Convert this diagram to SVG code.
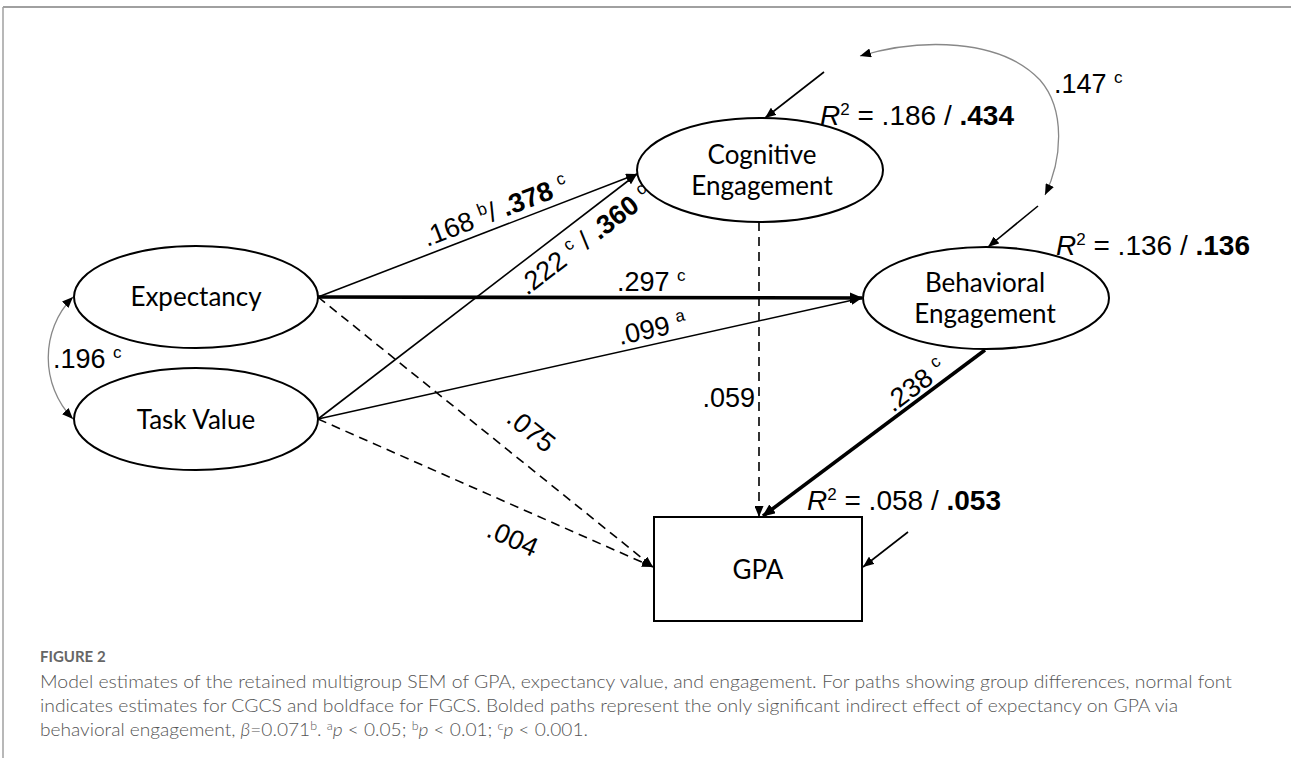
<svg xmlns="http://www.w3.org/2000/svg" width="1291" height="758" viewBox="0 0 1291 758">
<defs>
<style>
.node ellipse, .node rect { fill: #fff; stroke: #000; stroke-width: 2; }
.nt { font-family: Lato, "Open Sans", "Liberation Sans", sans-serif; font-size: 26px; fill: #000; text-anchor: middle; }
.lab { font-family: "Liberation Sans", Arial, sans-serif; font-size: 27px; fill: #000; }
.r2 { font-size: 28px; }
.sup { font-size: 17px; }
.b { font-weight: bold; }
.thin { stroke: #000; stroke-width: 1.6; fill: none; marker-end: url(#ah); }
.thick { stroke: #000; stroke-width: 3.6; fill: none; marker-end: url(#ahk); }
.dash { stroke: #000; stroke-width: 1.6; fill: none; stroke-dasharray: 9 6; marker-end: url(#ah); }
.cov { stroke: #888; stroke-width: 1.3; fill: none; marker-start: url(#ahs); marker-end: url(#ah); }
.cap { font-family: Lato, "Open Sans", "Liberation Sans", sans-serif; font-size: 18.5px; fill: #555; font-weight: 300; }
</style>
<marker id="ah" markerUnits="userSpaceOnUse" markerWidth="11" markerHeight="9" refX="11" refY="4.5" orient="auto"><path d="M0,0 L11,4.5 L0,9 z" fill="#000"/></marker>
<marker id="ahs" markerUnits="userSpaceOnUse" markerWidth="11" markerHeight="9" refX="11" refY="4.5" orient="auto-start-reverse"><path d="M0,0 L11,4.5 L0,9 z" fill="#000"/></marker>
<marker id="ahk" markerUnits="userSpaceOnUse" markerWidth="13" markerHeight="11" refX="12" refY="5.5" orient="auto"><path d="M0,0 L13,5.5 L0,11 z" fill="#000"/></marker>
</defs>
<rect x="0" y="0" width="1291" height="758" fill="#fff"/>
<g id="frame" stroke="#a0a0a0" fill="none">
<line x1="3" y1="7" x2="1291" y2="7" stroke-width="2"/>
<line x1="3" y1="7" x2="3" y2="758" stroke-width="1.5"/>
</g>

<g id="connectors">
<line class="thin" x1="318" y1="297" x2="637" y2="174"/>
<line class="thin" x1="318" y1="419" x2="637" y2="174"/>
<line class="thick" x1="318" y1="297" x2="862" y2="298"/>
<line class="thin" x1="318" y1="419" x2="862" y2="298"/>
<line class="dash" x1="318" y1="297" x2="653" y2="567"/>
<line class="dash" x1="318" y1="419" x2="653" y2="567"/>
<line class="dash" x1="759" y1="222" x2="759" y2="517"/>
<line class="thick" x1="985" y1="350" x2="763" y2="516"/>
<line class="thin" x1="824" y1="72" x2="765" y2="118"/>
<line class="thin" x1="1038" y1="206" x2="988" y2="247"/>
<line class="thin" x1="908" y1="532" x2="863" y2="567"/>
<path class="cov" d="M73,297 C40,330 40,385 73,419"/>
<path class="cov" d="M860,56 C920,38 1000,38 1040,80 C1066,110 1062,160 1045,195"/>
</g>

<g id="labels">
<text class="lab" transform="translate(427,247) rotate(-21)">.168 <tspan class="sup" dy="-10">b</tspan><tspan dy="10">/ </tspan><tspan class="b">.378</tspan> <tspan class="sup" dy="-10">c</tspan></text>
<text class="lab" transform="translate(527,296) rotate(-37.5)">.222 <tspan class="sup" dy="-10">c</tspan><tspan dy="10"> / </tspan><tspan class="b">.360</tspan> <tspan class="sup" dy="-10">c</tspan></text>
<text class="lab" x="617" y="291">.297 <tspan class="sup" dy="-10">c</tspan></text>
<text class="lab" transform="translate(620,345) rotate(-12.5)">.099 <tspan class="sup" dy="-10">a</tspan></text>
<text class="lab" transform="translate(505,421) rotate(39)">.075</text>
<text class="lab" transform="translate(485,536) rotate(24)">.004</text>
<text class="lab" x="755" y="407" text-anchor="end">.059</text>
<text class="lab" transform="translate(893,413) rotate(-37)">.238 <tspan class="sup" dy="-10">c</tspan></text>
<text class="lab" x="1054" y="93">.147 <tspan class="sup" dy="-10">c</tspan></text>
<text class="lab" x="53" y="368">.196 <tspan class="sup" dy="-10">c</tspan></text>
<text class="lab r2" x="820" y="125"><tspan font-style="italic">R</tspan><tspan class="sup" dy="-10">2</tspan><tspan dy="10"> = .186 / </tspan><tspan class="b">.434</tspan></text>
<text class="lab r2" x="1056" y="255"><tspan font-style="italic">R</tspan><tspan class="sup" dy="-10">2</tspan><tspan dy="10"> = .136 / </tspan><tspan class="b">.136</tspan></text>
<text class="lab r2" x="807" y="510"><tspan font-style="italic">R</tspan><tspan class="sup" dy="-10">2</tspan><tspan dy="10"> = .058 / </tspan><tspan class="b">.053</tspan></text>
</g>

<g id="node-expectancy" class="node">
<ellipse cx="196" cy="297" rx="122" ry="51"/>
<text class="nt" x="196" y="306">Expectancy</text>
</g>
<g id="node-taskvalue" class="node">
<ellipse cx="196" cy="419" rx="122" ry="51"/>
<text class="nt" x="196" y="429">Task Value</text>
</g>
<g id="node-cognitive" class="node">
<ellipse cx="760" cy="170" rx="123" ry="52"/>
<text class="nt" x="762" y="164">Cognitive</text>
<text class="nt" x="762" y="195">Engagement</text>
</g>
<g id="node-behavioral" class="node">
<ellipse cx="986" cy="298" rx="123" ry="51"/>
<text class="nt" x="985" y="292">Behavioral</text>
<text class="nt" x="985" y="323">Engagement</text>
</g>
<g id="node-gpa" class="node">
<rect x="654" y="517" width="208" height="104"/>
<text class="nt" x="758" y="579">GPA</text>
</g>

<g id="caption">
<text x="40" y="662" font-family="Lato, 'Open Sans', sans-serif" font-size="15" font-weight="bold" fill="#666">FIGURE 2</text>
<text class="cap" x="40" y="688" textLength="1192" lengthAdjust="spacingAndGlyphs">Model estimates of the retained multigroup SEM of GPA, expectancy value, and engagement. For paths showing group differences, normal font</text>
<text class="cap" x="40" y="712" textLength="1138" lengthAdjust="spacingAndGlyphs">indicates estimates for CGCS and boldface for FGCS. Bolded paths represent the only significant indirect effect of expectancy on GPA via</text>
<text class="cap" x="40" y="736" textLength="548" lengthAdjust="spacingAndGlyphs">behavioral engagement, <tspan font-style="italic">β</tspan>=0.071<tspan font-size="12" dy="-6">b</tspan><tspan dy="6">. </tspan><tspan font-size="12" dy="-6">a</tspan><tspan dy="6" font-style="italic">p</tspan> &lt; 0.05; <tspan font-size="12" dy="-6">b</tspan><tspan dy="6" font-style="italic">p</tspan> &lt; 0.01; <tspan font-size="12" dy="-6">c</tspan><tspan dy="6" font-style="italic">p</tspan> &lt; 0.001.</text>
</g>
</svg>
